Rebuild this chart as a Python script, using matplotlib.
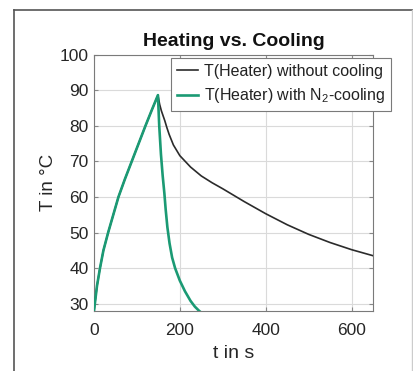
import matplotlib
matplotlib.use("Agg")
import matplotlib.pyplot as plt
from matplotlib.lines import Line2D

plt.rcParams['font.family'] = ['Liberation Sans', 'DejaVu Sans']
plt.rcParams['mathtext.fontset'] = 'custom'
plt.rcParams['mathtext.rm'] = 'Liberation Sans'
plt.rcParams['mathtext.default'] = 'regular'

# Heating phase (shared)
t_heat = [0, 3, 7, 14, 22, 33, 45, 57, 72, 88, 104, 120, 135, 149]
T_heat = [28, 31, 35, 40, 45, 50, 55, 60, 65, 70, 75, 80, 84.5, 88.6]

# Passive cooling (without cooling)
t_passive = [153, 157, 161, 165, 170, 175, 185, 200, 225, 250, 275, 300, 325, 350, 375, 400, 450, 500, 550, 600, 650]
T_passive = [86.0, 84.2, 82.8, 81.4, 79.4, 77.6, 74.6, 71.6, 68.4, 65.9, 64.0, 62.3, 60.5, 58.7, 57.0, 55.3, 52.2, 49.5, 47.2, 45.2, 43.5]

# N2 cooling
t_n2 = [152, 156, 160, 164, 167, 171, 176, 182, 189, 200, 212, 225, 235, 245, 250]
T_n2 = [80, 72, 66, 61, 56.5, 51.5, 47, 43, 40, 36.5, 33.5, 30.8, 29.2, 28.0, 27.5]

title = "Heating vs. Cooling"
xlabel = "t in s"
ylabel = "T in °C"
label_black = "T(Heater) without cooling"
label_green = "T(Heater) with N$_2$-cooling"
xticks = [0, 200, 400, 600]
yticks = [30, 40, 50, 60, 70, 80, 90, 100]

fig = plt.figure(figsize=(4.14, 3.71), dpi=100)
ax = fig.add_axes([0.227, 0.162, 0.674, 0.691])

black_c = '#2b2b2b'
green_c = '#1b9a74'

ax.plot(t_heat + t_passive, T_heat + T_passive, color=black_c, lw=1.2, label=label_black, zorder=3)
ax.plot(t_heat + t_n2, T_heat + T_n2, color=green_c, lw=1.9, label=label_green, zorder=4)

ax.set_xlim(0, 650)
ax.set_ylim(28, 100)
ax.set_xticks(xticks)
ax.set_yticks(yticks)
ax.grid(True, color='#dadada', lw=0.8, zorder=0)
ax.tick_params(direction='in', length=3, top=True, right=True, labelsize=12.5,
               colors='#888888', labelcolor='#262626')
ax.tick_params(axis='x', pad=9)
ax.tick_params(axis='y', pad=4)
for s in ax.spines.values():
    s.set_color('#7a7a7a')
    s.set_linewidth(0.8)

ax.set_title(title, fontsize=14, fontweight='bold', color='#111111', pad=6)
ax.set_xlabel(xlabel, fontsize=14, color='#262626', labelpad=5)
ax.set_ylabel(ylabel, fontsize=13.5, color='#262626', labelpad=2)

leg = ax.legend(loc='upper left', bbox_to_anchor=(0.277, 0.985), fontsize=11.5,
                frameon=True, fancybox=False, framealpha=1, edgecolor='#7a7a7a',
                borderpad=0.35, labelspacing=0.45, handlelength=1.3, handletextpad=0.4,
                borderaxespad=0)
leg.get_frame().set_linewidth(0.8)
for t in leg.get_texts():
    t.set_color('#222222')

# outer frame lines
fig.add_artist(Line2D([0.034, 1.0], [0.973, 0.973], color='#555555', lw=1.2, transform=fig.transFigure))
fig.add_artist(Line2D([0.034, 0.034], [0.0, 0.973], color='#555555', lw=1.2, transform=fig.transFigure))
fig.add_artist(Line2D([0.994, 0.994], [0.0, 0.973], color='#cccccc', lw=1.0, transform=fig.transFigure))

fig.savefig('out.png', dpi=100)
